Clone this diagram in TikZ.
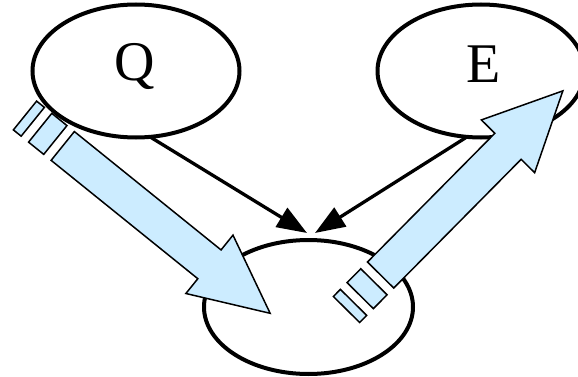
\documentclass[tikz,border=0pt]{standalone}
\usepackage{fontspec}
\setmainfont{Liberation Serif}
\usetikzlibrary{shapes.geometric,arrows.meta}
\definecolor{paleblue}{RGB}{204,236,255}
\tikzset{
  oval/.style={ellipse, draw, line width=4pt, minimum width=207pt, minimum height=133pt, inner sep=0pt, outer sep=0pt},
  letter/.style={font=\fontsize{56}{56}\selectfont, inner sep=0pt, anchor=base},
  link/.style={line width=3.3pt, -{Triangle[length=30pt,width=22pt]}},
  blockarrow/.style={fill=paleblue, draw=black, line width=1.5pt, line join=miter},
}
\newcommand{\stripedarrow}[4]{%
  \begin{scope}[shift={(#1,#2)}, rotate=#3]
    \path[blockarrow] (0,-18.5) rectangle (10,18.5);
    \path[blockarrow] (19.5,-18.5) rectangle (39,18.5);
    \path[blockarrow] (48.5,-18.5) -- ({#4-78},-18.5) -- ({#4-78},-37.5) -- (#4,0)
      -- ({#4-78},37.5) -- ({#4-78},18.5) -- (48.5,18.5) -- cycle;
  \end{scope}}
\begin{document}
\begin{tikzpicture}[x=1pt,y=-1pt]
  \useasboundingbox (0,0) rectangle (578,377);
  \node[oval] (E) at (481,71) {};
  \node[oval, minimum width=209pt, minimum height=134pt] (C) at (308.5,307) {};
  \node[letter] (Elabel) at (483.5,83) {E};
  \node[letter] (Qlabel) at (135,81) {Q};
  \coordinate (t1) at (307,233);
  \coordinate (t2) at (315,233);
  \stripedarrow{25}{115.5}{-38.9}{315}
  \stripedarrow{346.5}{309.5}{45.3}{307.6}
  \node[oval] (Q) at (136,71) {};
  \draw[link] (Q.-78) -- (t1);
  \draw[link] (E.-102) -- (t2);
\end{tikzpicture}
\end{document}
